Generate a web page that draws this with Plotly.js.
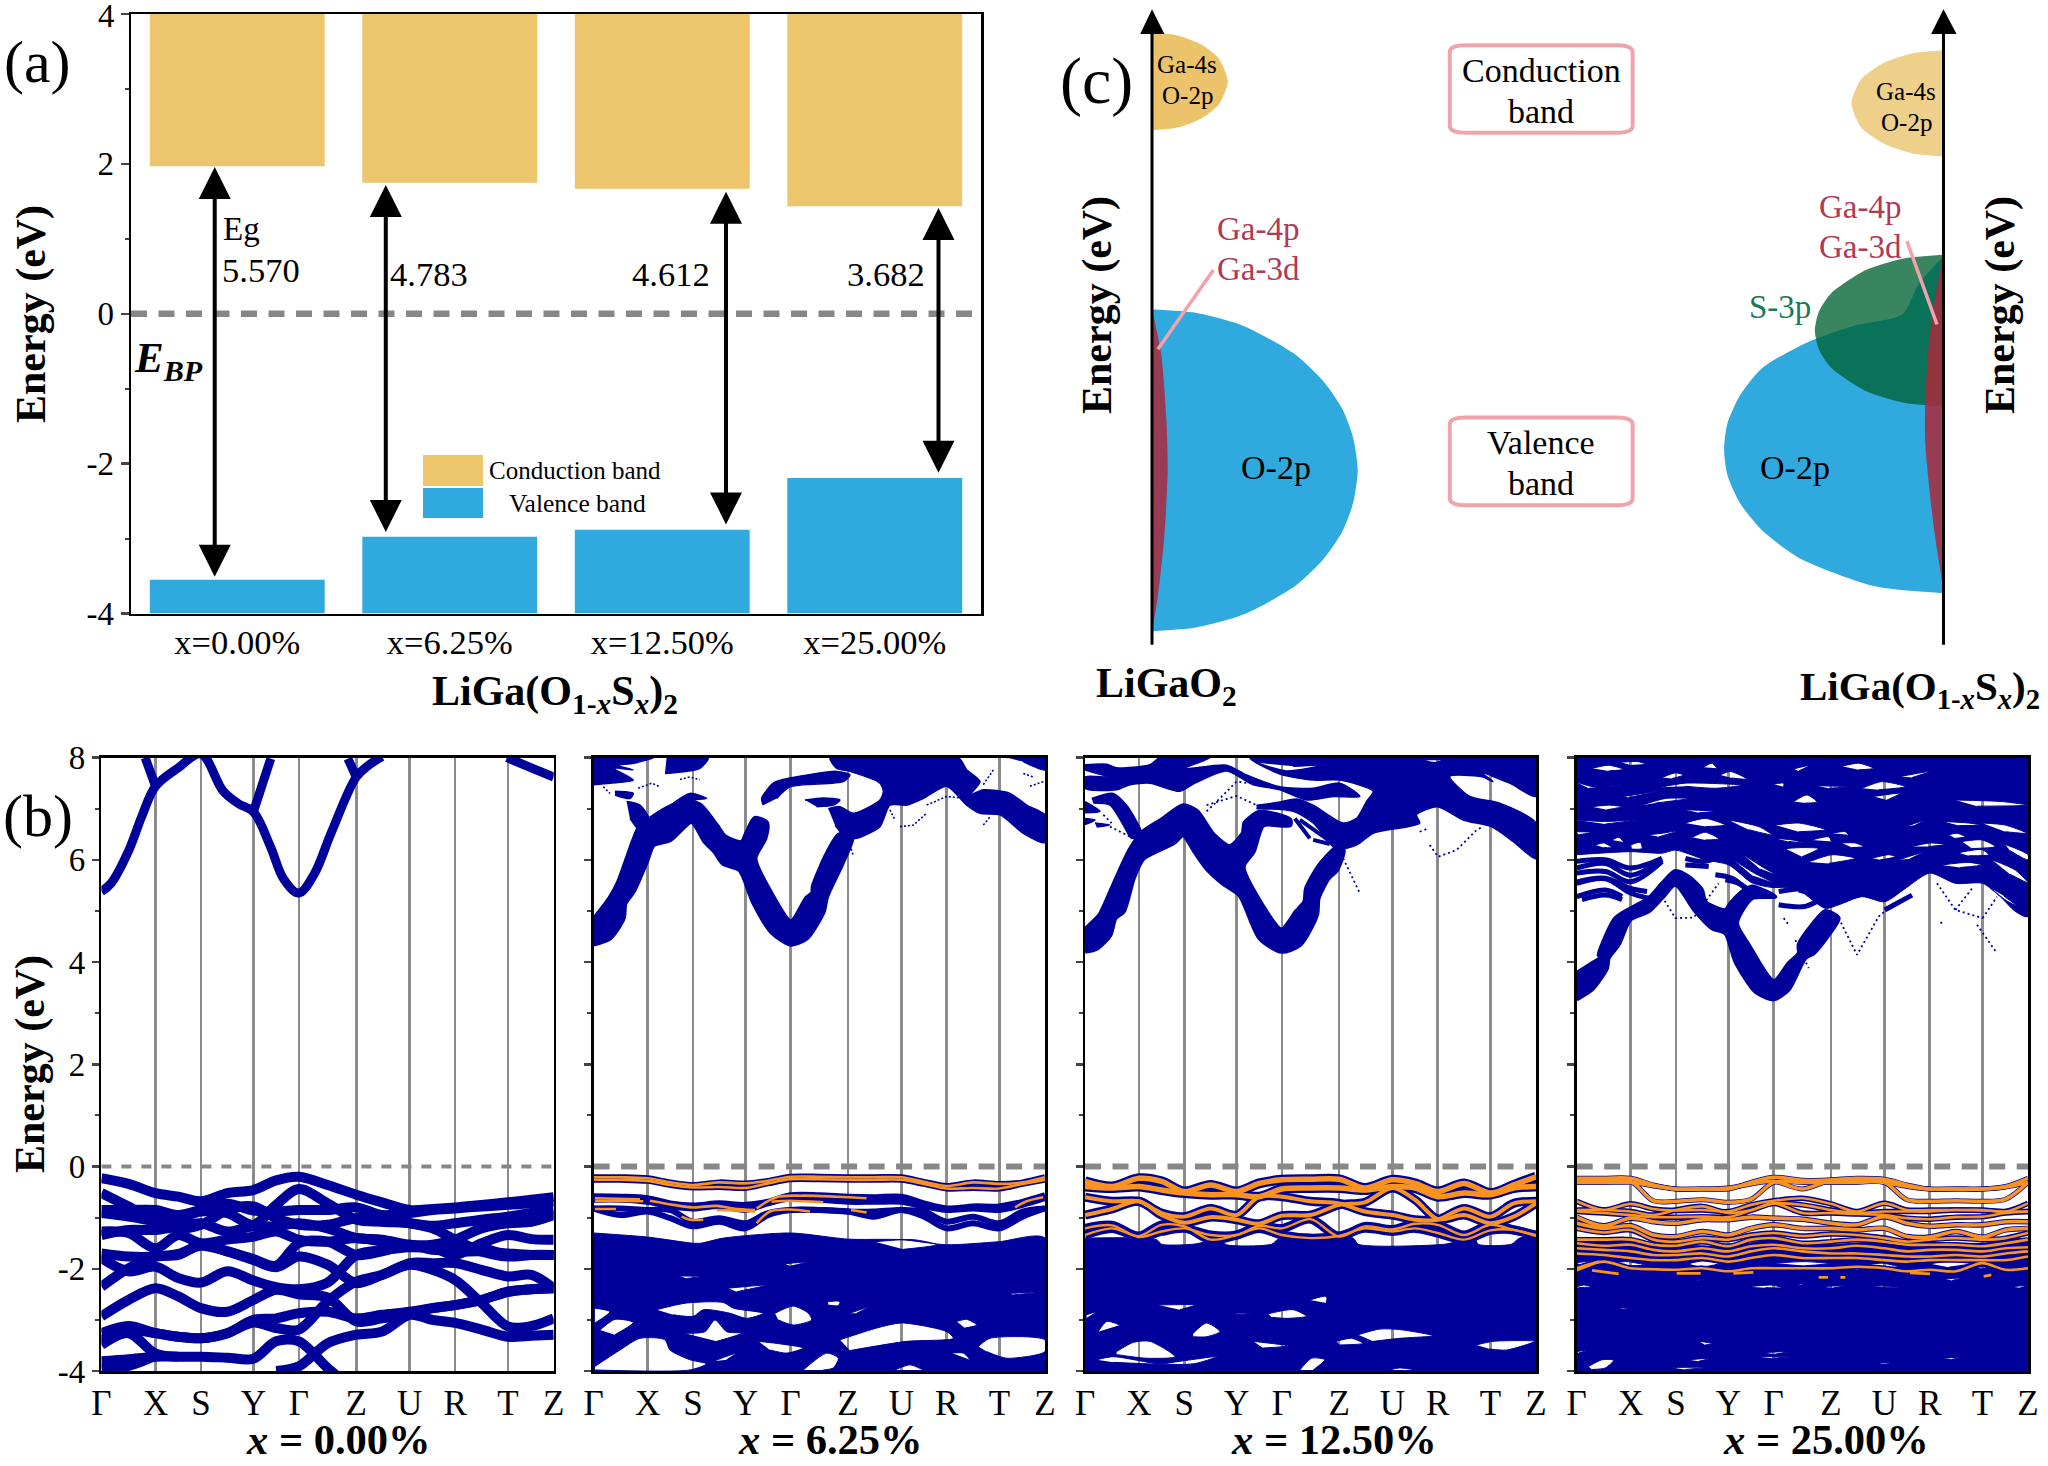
<!DOCTYPE html>
<html><head><meta charset="utf-8">
<script src="https://cdn.plot.ly/plotly-3.0.1.min.js"></script>
<style>html,body{margin:0;padding:0;background:#fff}path.js-fill{fill-rule:evenodd}</style>
</head><body><div id="chart" style="width:2048px;height:1466px"></div>
<script>
// ---------- panel (a) values ----------
const categories = ['x=0.00%','x=6.25%','x=12.50%','x=25.00%'];
const cbEdge = [1.97,1.75,1.67,1.435];
const vbEdge = [-3.55,-2.975,-2.88,-2.19];
const arrowX = [-0.106,0.699,2.30,3.30];
const arrowTop = [1.96,1.72,1.63,1.41];
const arrowBottom = [-3.53,-2.93,-2.83,-2.14];
const gapLabels = ['5.570','4.783','4.612','3.682'];

// ---------- panel (b) k-path ----------
const kTicks = [0,162,298,455,591,763,923,1059,1217,1354];
const kLabels = ['Γ','X','S','Y','Γ','Z','U','R','T','Z'];
const kNodes = [0,81,162,230,298,377,455,523,591,677,763,840,923,991,1059,1138,1217,1287,1354];

// x = 0.00 %  valence bands
const p1Bands = [
[-.23,-.34,-.52,-.59,-.68,-.52,-.46,-.27,-.20,-.36,-.55,-.70,-.85,-.83,-.80,-.75,-.70,-.65,-.60],
[-.85,-.85,-.85,-.95,-.85,-.73,-.86,-.88,-.85,-.85,-.80,-.95,-.91,-.85,-.82,-.78,-.75,-.72,-.68],
[-.52,-.78,-1.04,-1.01,-.88,-.91,-1.14,-.75,-.44,-.72,-1.04,-1.08,-1.11,-1.16,-1.11,-1.04,-.98,-.91,-.85],
[-.91,-.98,-1.08,-1.21,-1.14,-.85,-.78,-1.01,-1.14,-1.14,-1.01,-1.04,-1.11,-1.21,-1.43,-1.66,-1.76,-1.73,-1.73],
[-1.34,-1.24,-1.24,-1.17,-1.11,-1.27,-1.17,-1.17,-1.11,-1.21,-1.40,-1.43,-1.53,-1.53,-1.43,-1.21,-1.11,-1.08,-.95],
[-1.27,-1.30,-1.60,-1.34,-1.50,-1.43,-1.37,-1.27,-1.43,-1.47,-1.40,-1.47,-1.55,-1.58,-1.73,-1.50,-1.34,-1.42,-1.43],
[-1.70,-1.76,-1.76,-1.71,-1.55,-1.66,-1.81,-1.94,-1.50,-1.47,-1.73,-1.66,-1.53,-1.63,-1.63,-1.60,-1.73,-1.73,-1.73],
[-1.79,-2.05,-1.96,-2.18,-2.27,-2.05,-2.23,-2.36,-2.40,-2.27,-1.73,-1.64,-1.58,-1.60,-1.66,-1.66,-1.70,-1.73,-1.73],
[-2.35,-1.99,-1.76,-1.73,-1.53,-1.66,-1.83,-1.97,-1.76,-1.92,-2.28,-2.12,-1.89,-1.89,-1.89,-2.02,-2.15,-2.12,-2.38],
[-2.93,-2.61,-2.38,-2.54,-2.77,-2.84,-2.61,-2.41,-2.50,-2.56,-3.03,-2.97,-2.87,-2.77,-2.71,-2.61,-2.45,-2.40,-2.38],
[-3.26,-3.12,-3.26,-3.33,-3.36,-3.26,-3.05,-3.16,-3.19,-2.64,-2.25,-2.12,-1.92,-2.02,-2.22,-2.67,-3.13,-3.12,-2.97],
[-3.39,-3.20,-3.26,-3.33,-3.36,-3.26,-3.00,-2.97,-2.87,-2.84,-2.97,-2.90,-2.84,-2.77,-2.71,-2.61,-2.45,-2.40,-2.38],
[-3.81,-3.77,-3.72,-3.72,-3.72,-3.74,-3.76,-3.42,-3.42,-3.94,-4.40,null,null,null,null,null,null,null,null],
[-3.49,-3.26,-3.66,-3.72,null,null,null,null,null,null,null,null,null,null,null,null,null,null,null],
[-3.95,-3.90,-3.70,null,null,null,null,null,null,null,null,null,null,null,null,null,null,null,null],
[null,null,null,null,null,null,null,-4.00,-3.91,-3.46,-3.29,-3.23,-2.90,-3.00,-3.06,-3.19,-3.33,-3.31,-3.29]
];
// x = 0.00 %  conduction bands, [k, E]
const p1Cond = [
[[0,5.38],[30,5.55],[81,6.17],[121,6.85],[162,7.44],[230,7.80],[298,8.07],[364,7.35],[410,7.10],[455,6.94],[506,6.26],[546,5.62],[591,5.35],[637,5.72],[688,6.53],[763,7.62],[800,7.85],[840,8.02]],
[[131,8.0],[162,7.44]],
[[455,6.94],[507,7.98]],
[[763,7.62],[738,7.98]],
[[1214,8.0],[1287,7.80],[1354,7.62]]
];

// x = 6.25 %
const p2Main = [[0,4.83],[49,5.25],[74,5.55],[119,6.36],[137,6.63],[164,6.77],[219,7.0],[279,7.16],[319,7.07],[369,6.67],[394,6.45],[444,6.34],[459,6.52],[484,6.81],[519,6.72],[514,6.42],[484,6.03],[529,5.38],[592,4.79],[639,5.25],[657,5.35],[659,5.48],[699,6.10],[737,6.49],[774,6.42],[769,6.29],[739,5.84],[699,5.28],[689,4.99],[639,4.47],[592,4.35],[534,4.59],[479,5.18],[439,5.80],[389,5.93],[364,6.16],[334,6.36],[294,6.75],[229,6.39],[179,6.29],[159,5.97],[119,5.38],[94,5.15],[89,4.86],[49,4.47],[0,4.35]];
const p2Upper = [
[[704,7.0],[739,7.04],[779,6.91],[859,7.17],[869,7.34],[859,7.50],[769,7.73],[729,7.79],[709,8],[1094,8],[1119,7.76],[1159,7.53],[1129,7.27],[1169,7.37],[1249,7.30],[1299,7.07],[1354,6.88],[1354,6.34],[1289,6.52],[1219,6.88],[1159,6.91],[1119,7.07],[1059,7.44],[989,7.2],[939,7.07],[889,7.07],[859,6.65],[789,6.42],[759,6.42],[724,6.68]],
[[509,7.07],[504,7.2],[539,7.50],[589,7.6],[729,7.73],[769,7.66],[749,7.53],[589,7.43],[549,7.2]],
[[99,7.14],[139,7.07],[169,6.75],[139,6.58],[109,6.81]],
[[64,7.34],[119,7.3],[109,7.2],[64,7.27]],
[[239,7.11],[289,7.3],[339,7.2],[279,7.17]],
[[634,7.17],[689,7.21],[739,7.17],[719,7.07],[669,7.04]],
[[214,7.69],[319,7.79],[344,8],[219,8]],
[[0,8],[180,8],[120,7.89],[70,7.85],[119,7.76],[60,7.79],[119,7.56],[50,7.5],[0,7.47]],
[[1239,8],[1354,8],[1354,7.76],[1289,7.92]]
];
const p2Thin = [
[[919,6.65],[959,6.68],[999,6.91]],[[999,7.07],[1059,7.24],[1119,7.2]],[[889,6.98],[904,6.78]],[[1169,6.68],[1189,6.84]],
[[1169,7.47],[1199,7.76]],[[29,7.43],[49,7.30]],[[134,7.40],[174,7.5],[199,7.43]],[[259,7.57],[289,7.62],[319,7.57]],
[[769,6.29],[779,6.08]],[[1289,7.69],[1319,7.62]],[[1309,7.44],[1349,7.53]]
];
const p2Mass = [[0,-4.2],[1354,-4.2],[1354,-1.40],[1217,-1.47],[1059,-1.53],[923,-1.43],[763,-1.42],[591,-1.30],[389,-1.40],[322,-1.50],[298,-1.50],[162,-1.38],[0,-1.30]];
const p2Holes = [
[[189,-2.80],[279,-2.67],[389,-2.66],[419,-2.77],[509,-2.87],[459,-2.97],[409,-2.87],[329,-2.80],[299,-2.93],[239,-2.90]],
[[4,-2.77],[49,-2.84],[4,-3.06]],
[[19,-3.20],[64,-2.99],[119,-3.05],[64,-3.29]],
[[544,-2.87],[599,-2.73],[644,-2.87],[654,-3.0],[599,-3.10],[554,-3.0]],
[[4,-3.91],[79,-3.59],[139,-3.36],[214,-3.39],[229,-3.59],[289,-3.78],[339,-3.86],[289,-3.98],[4,-3.98]],
[[274,-3.26],[334,-3.23],[364,-3.0],[399,-3.23],[444,-3.26],[369,-3.42]],
[[494,-3.42],[549,-3.46],[629,-3.55],[579,-3.65],[529,-3.59]],
[[739,-3.39],[849,-3.16],[924,-3.06],[1059,-3.23],[1079,-3.36],[939,-3.42],[769,-3.6]],
[[1089,-3.03],[1119,-2.99],[1149,-3.1],[1114,-3.16]],
[[1154,-3.52],[1189,-3.36],[1354,-3.39],[1354,-3.62],[1239,-3.75],[1179,-3.62]],
[[629,-3.98],[699,-3.65],[734,-3.75],[719,-3.94],[689,-3.98]],
[[1074,-3.65],[1109,-3.65],[1129,-3.78]],
[[359,-3.81],[429,-3.65],[399,-3.78]],
[[904,-3.98],[949,-3.88],[989,-3.98]],
[[404,-2.38],[519,-2.32],[429,-2.45]],
[[259,-2.14],[324,-2.15],[279,-2.19]],
[[769,-2.87],[829,-2.74],[789,-2.87]],
[[704,-2.64],[739,-2.64],[734,-2.72],[704,-2.71]],
[[844,-1.47],[959,-1.43],[1029,-1.53],[929,-1.62]],
[[1249,-2.48],[1349,-2.45],[1259,-2.51]],
[[575,-1.90],[640,-1.87],[590,-1.95]]
];
const p2Valence = [
[-.21,-.21,-.23,-.31,-.36,-.31,-.33,-.28,-.2,-.2,-.21,-.21,-.21,-.30,-.38,-.31,-.34,-.31,-.21],
[-.26,-.26,-.28,-.36,-.41,-.40,-.42,-.33,-.25,-.25,-.26,-.26,-.26,-.34,-.43,-.42,-.43,-.34,-.26],
[-.58,-.59,-.62,-.72,-.76,-.72,-.75,-.69,-.56,-.56,-.59,-.60,-.59,-.72,-.82,-.78,-.78,-.69,-.56],
[-.65,-.65,-.69,-.78,-.82,-.77,-.85,-.72,-.62,-.65,-.69,-.69,-.69,-.78,-.85,-.82,-.85,-.75,-.62],
[-.82,-.95,-.88,-1.01,-1.17,-1.08,-1.21,-.95,-.85,-.85,-.88,-.98,-.85,-.98,-1.21,-1.11,-1.21,-.98,-.82],
[-.82,-.82,-.85,-.85,-1.08,-1.01,-1.11,-.91,-.85,-.85,-.88,-.88,-.85,-.88,-1.08,-.98,-1.11,-.88,-.82]
];
const p2Orange = [
[[4,-.62],[139,-.64]],[[4,-.67],[149,-.68]],
[[169,-.67],[239,-.75],[299,-.80],[369,-.77],[419,-.82],[484,-.85]],
[[369,-.85],[429,-.86],[484,-.88]],
[[489,-.82],[549,-.60],[629,-.57],[729,-.59],[819,-.62]],
[[534,-.69],[589,-.67],[689,-.70]],
[[489,-1.11],[529,-.88],[589,-.84],[649,-.88]],
[[4,-.83],[67,-.83]],[[264,-.98],[289,-1.04],[329,-1.04]],[[772,-.85],[819,-.90]],
[[1264,-.80],[1299,-.68],[1349,-.60]]
];

// x = 12.50 %
const p3Main = [[0,4.63],[45,4.92],[55,5.05],[95,5.64],[135,6.19],[170,6.52],[230,6.78],[295,7.06],[335,6.95],[385,6.49],[435,6.26],[475,6.52],[480,6.72],[525,6.93],[615,6.78],[615,6.68],[535,6.68],[505,6.16],[475,5.87],[525,5.18],[590,4.63],[635,4.99],[660,5.18],[665,5.44],[705,5.90],[755,6.23],[775,6.19],[755,5.80],[730,5.64],[700,5.25],[695,4.92],[645,4.34],[590,4.21],[525,4.47],[465,5.31],[415,5.54],[365,5.84],[330,6.16],[295,6.49],[265,6.33],[175,6.03],[145,5.64],[115,4.99],[90,4.86],[75,4.53],[35,4.27],[0,4.21]];
const p3Right = [[515,7.07],[585,7.13],[635,7.19],[685,7.07],[775,6.72],[815,6.81],[845,7.14],[865,7.34],[765,7.56],[685,7.56],[585,7.68],[495,8],[1354,8],[1354,7.24],[1275,7.5],[1190,7.71],[1225,7.53],[1190,7.63],[1095,7.63],[1155,7.24],[1245,7.11],[1354,6.72],[1354,6.02],[1285,6.36],[1220,6.65],[1135,6.78],[1058,7.04],[995,6.88],[1005,6.72],[865,6.52],[815,6.29],[755,6.21],[685,6.72],[625,6.95],[515,7.0]];
const p3RightHoles = [
[[515,7.9],[605,7.74],[720,7.86],[625,7.83]],
[[1015,7.95],[1050,7.9],[1075,7.95]]
];
const p3Others = [
[[0,7.86],[65,7.87],[95,7.8],[195,7.86],[225,8],[375,8],[295,7.78],[425,7.85],[485,7.66],[585,7.43],[685,7.4],[765,7.5],[825,7.24],[745,7.24],[665,7.17],[585,7.37],[505,7.47],[425,7.74],[330,7.5],[285,7.34],[195,7.5],[135,7.47],[95,7.37],[0,7.40],[0,7.62],[65,7.62],[0,7.76]],
[[20,7.2],[85,7.3],[125,7.07],[150,6.81],[170,6.52],[140,6.42],[115,6.68],[75,7.07],[25,7.11]],
[[0,7.14],[45,6.95],[0,6.92]],
[[0,6.81],[30,6.78],[0,6.69]],
[[30,6.72],[75,6.68],[35,6.64]]
];
const p3Thin = [
[[75,6.65],[145,6.42]],[[55,6.88],[80,6.72]],
[[365,6.95],[385,7.07],[455,7.53],[495,7.5]],
[[365,7.07],[455,7.25],[515,7.07]],
[[775,6.03],[825,5.35]],[[1005,6.55],[1025,6.6]],
[[1035,6.29],[1060,6.06],[1115,6.19],[1175,6.58],[1195,6.65]]
];
const p3Stripes = [[[630,6.81],[675,6.42]],[[645,6.78],[730,6.39]],[[685,6.39],[735,6.31]]];
const p3Mass = [[0,-4.2],[1354,-4.2],[1354,-1.40],[1305,-1.40],[1280,-1.52],[1180,-1.52],[1170,-1.40],[1080,-1.52],[820,-1.52],[805,-1.40],[585,-1.40],[560,-1.52],[425,-1.53],[405,-1.43],[325,-1.52],[230,-1.52],[215,-1.43],[0,-1.40]];
const p3Holes = [
[[220,-2.71],[330,-2.71],[285,-2.80]],
[[550,-2.88],[625,-2.80],[665,-2.93],[605,-2.97],[560,-2.95]],
[[40,-3.23],[65,-3.03],[105,-3.10]],
[[5,-2.97],[35,-2.84],[5,-2.90]],
[[325,-3.26],[365,-3.06],[405,-3.23],[365,-3.33],[325,-3.33]],
[[95,-3.62],[145,-3.44],[195,-3.42],[270,-3.72],[185,-3.75],[95,-3.68]],
[[35,-3.78],[85,-3.72],[225,-3.86],[285,-3.81],[395,-3.72],[325,-3.86],[85,-3.83]],
[[645,-3.98],[680,-3.75],[720,-3.78],[685,-3.98]],
[[755,-3.42],[800,-3.36],[835,-3.46],[765,-3.49]],
[[820,-3.29],[885,-3.18],[945,-3.19],[1045,-3.31],[945,-3.36],[865,-3.42]],
[[1175,-3.49],[1225,-3.42],[1350,-3.42],[1265,-3.59],[1215,-3.57]],
[[505,-3.42],[610,-3.51],[535,-3.55]],
[[675,-2.61],[725,-2.54],[725,-2.67]],
[[450,-2.87],[505,-2.87],[455,-2.90]],
[[910,-3.98],[945,-3.94],[995,-3.98]]
];
const p3Valence = [
[-.29,-.39,-.23,-.29,-.49,-.36,-.49,-.33,-.26,-.25,-.25,-.42,-.26,-.33,-.49,-.33,-.52,-.36,-.20],
[-.39,-.42,-.39,-.46,-.52,-.55,-.55,-.59,-.44,-.42,-.42,-.46,-.39,-.42,-.59,-.52,-.55,-.42,-.39],
[-.60,-.68,-.68,-.91,-.98,-.82,-.95,-.59,-.59,-.68,-.72,-.88,-.95,-1.04,-1.04,-.82,-.98,-.72,-.68],
[-.95,-.83,-.68,-.95,-1.10,-.99,-1.04,-1.12,-.96,-.95,-.75,-.70,-.42,-.65,-1.03,-.95,-1.11,-.98,-.72],
[-1.34,-1.21,-1.36,-1.14,-1.17,-1.43,-1.34,-1.21,-1.34,-1.40,-1.36,-1.21,-1.27,-1.21,-1.30,-1.43,-1.25,-1.24,-1.36],
[-1.21,-1.15,-1.38,-1.27,-1.21,-1.34,-1.34,-1.16,-1.21,-1.03,-1.37,-1.17,-1.23,-1.12,-1.14,-1.34,-1.14,-1.24,-1.34]
];

// x = 25.00 %
const p4Main = [[0,3.79],[46,3.98],[71,4.08],[66,4.14],[76,4.34],[116,4.86],[161,5.05],[216,5.25],[256,5.54],[296,5.78],[336,5.67],[376,5.41],[386,5.18],[446,5.02],[461,5.15],[496,5.38],[526,5.48],[596,5.28],[526,5.25],[481,4.76],[516,4.34],[591,3.63],[636,3.98],[666,4.17],[666,4.34],[706,4.73],[746,5.0],[786,4.86],[756,4.53],[711,4.17],[686,4.08],[636,3.46],[591,3.27],[536,3.42],[476,4.01],[446,4.56],[406,4.66],[356,4.99],[296,5.51],[256,5.25],[216,4.99],[161,4.83],[126,4.34],[96,4.08],[91,3.88],[46,3.46],[0,3.27]];
const p4Upper = [[0,8.2],[1354,8.2],[1354,4.89],[1316,4.99],[1271,5.28],[1218,5.54],[1136,5.54],[1059,5.74],[986,5.44],[924,5.18],[856,5.28],[786,5.12],[746,5.05],[666,5.41],[626,5.46],[586,5.46],[526,5.55],[456,5.90],[386,6.0],[296,6.19],[256,6.13],[161,6.16],[0,6.10]];
const p4UpperHoles = [
[[46,7.79],[96,7.85],[141,7.77],[96,7.74]],[[131,7.91],[186,7.92],[206,7.87],[166,7.85]],[[381,7.81],[406,7.89],[421,7.79]],
[[256,7.61],[296,7.70],[321,7.66],[286,7.59]],[[431,7.66],[461,7.73],[511,7.58],[466,7.60]],[[651,7.78],[701,7.85],[666,7.74]],
[[796,7.83],[846,7.89],[891,7.79],[846,7.76]],[[971,7.63],[1061,7.73],[1006,7.61]],[[0,7.52],[60,7.42],[156,7.5],[106,7.44],[36,7.4]],
[[251,7.42],[326,7.50],[496,7.46],[416,7.40],[326,7.44]],[[591,7.48],[621,7.50],[621,7.43]],[[721,7.45],[816,7.43],[756,7.40]],
[[856,7.40],[916,7.53],[986,7.43],[906,7.37]],[[651,7.14],[691,7.27],[721,7.13],[686,7.11]],[[891,7.24],[971,7.30],[931,7.17]],
[[46,7.04],[96,7.07],[136,7.04],[91,6.98]],[[196,7.07],[266,7.2],[336,7.2],[236,7.11]],[[141,7.24],[246,7.34],[156,7.22]],
[[326,6.98],[416,6.95],[366,6.92]],[[1136,7.17],[1276,7.14],[1351,7.07],[1201,7.05]],[[0,6.78],[86,6.75],[176,6.78],[86,6.70]],
[[0,6.55],[46,6.54],[6,6.49]],[[56,6.29],[81,6.33],[106,6.24],[81,6.24]],[[106,6.39],[126,6.44],[141,6.35]],
[[161,6.29],[191,6.34],[196,6.22],[166,6.21]],[[326,6.72],[386,6.81],[446,6.68],[386,6.65]],[[346,6.44],[386,6.54],[426,6.41],[386,6.39]],
[[456,6.78],[546,6.65],[586,6.49],[516,6.59]],[[596,6.68],[666,6.72],[746,6.59],[666,6.55]],[[596,6.42],[646,6.39],[686,6.33],[636,6.36]],
[[706,6.39],[756,6.45],[766,6.36]],[[766,6.52],[806,6.55],[816,6.49]],[[796,6.33],[836,6.33],[861,6.26],[826,6.24]],
[[626,6.22],[676,6.24],[726,6.22],[676,6.06]],[[696,5.96],[766,6.10],[836,6.03],[756,5.93]],[[886,6.03],[936,6.10],[956,6.06],[911,6.0]],
[[1006,6.26],[1061,6.33],[1106,6.30],[1056,6.26]],[[1116,6.49],[1141,6.52],[1166,6.45],[1136,6.42]],[[1156,6.36],[1216,6.39],[1256,6.26],[1186,6.22]],
[[1216,6.72],[1286,6.68],[1351,6.52],[1286,6.55]],[[1101,6.75],[1176,6.72],[1211,6.68],[1146,6.67]],[[986,6.65],[1046,6.78],[1016,6.68]],
[[216,6.49],[256,6.52],[306,6.57],[246,6.45]],
[[470,6.0],[530,5.75],[590,5.55],[530,5.68]],[[500,6.1],[560,5.85],[600,5.7],[550,5.82]],
[[1146,6.14],[1216,6.2],[1236,6.1],[1176,6.08]],[[1246,6.0],[1316,5.8],[1354,5.55],[1300,5.72]],[[1286,6.3],[1354,6.1],[1354,6.0],[1300,6.18]],
[[1096,5.9],[1176,5.95],[1216,5.9],[1150,5.85]],[[966,6.0],[1040,6.15],[1000,6.02]],[[1240,5.45],[1290,5.2],[1320,5.1],[1280,5.3]]
];
const p4Strips = [
[[0,5.97],[86,6.0],[161,5.84],[256,6.03]],[[0,5.84],[86,5.93],[161,5.70],[256,6.0]],[[0,5.74],[86,5.77],[161,5.57],[256,5.97]],
[[0,5.57],[86,5.64],[161,5.44],[211,5.38]],[[0,5.54],[86,5.63],[161,5.35],[216,5.25]],[[0,5.28],[86,5.41],[136,5.28]],[[16,5.22],[86,5.31],[136,5.22]],
[[326,6.03],[386,5.97],[456,6.16]],[[326,5.90],[396,5.87]],[[416,5.71],[466,5.64],[506,5.44]],[[446,5.61],[486,5.54],[516,5.41]],
[[606,5.38],[686,5.44],[746,5.38]],[[606,5.12],[686,5.09],[736,5.25]],
[[666,5.41],[726,5.31],[786,5.18]],[[924,5.02],[1006,5.31]]
];
const p4Thin = [
[[256,5.28],[296,4.86],[351,4.87],[426,5.54]],[[786,4.86],[841,4.14],[906,4.89],[926,5.0]],[[1091,4.76],[1101,4.79]],[[621,4.86],[636,4.73]],
[[1081,5.54],[1136,5.02],[1218,4.86]],[[1136,5.02],[1186,5.44]],[[1218,4.86],[1261,5.28]],[[1201,4.73],[1261,4.17]],[[656,4.43],[696,3.88]]
];
const p4Mass = [[0,-4.2],[1354,-4.2],[1354,-1.45],[1217,-1.50],[1059,-1.50],[923,-1.47],[763,-1.52],[591,-1.43],[455,-1.56],[298,-1.53],[162,-1.47],[0,-1.40]];
const p4Holes = [
[[102,-1.89],[151,-1.86],[206,-1.93],[151,-1.94]],[[336,-1.90],[376,-1.85],[426,-1.90],[376,-1.97]],[[596,-1.89],[686,-1.86],[756,-1.90],[686,-1.94]],
[[876,-1.92],[916,-1.89],[966,-1.96],[916,-1.97]],[[1061,-1.90],[1116,-1.86],[1181,-1.90],[1116,-1.97]],[[0,-1.88],[36,-1.86],[61,-1.90],[16,-1.94]],
[[826,-1.99],[844,-1.94],[864,-1.99],[844,-2.02]],[[1201,-1.97],[1236,-1.96],[1216,-2.0]],[[0,-2.35],[21,-2.32],[46,-2.35],[6,-2.37]],
[[516,-2.35],[586,-2.32],[616,-2.37],[566,-2.37]],[[651,-2.29],[716,-2.29],[676,-2.31]],[[736,-2.35],[806,-2.33],[771,-2.37]],
[[886,-2.35],[971,-2.36],[916,-2.33]],[[1106,-2.20],[1156,-2.18],[1126,-2.23]],[[1306,-2.35],[1351,-2.33],[1331,-2.37]],
[[371,-2.22],[391,-2.18],[356,-2.23]],[[0,-3.62],[31,-3.59],[6,-3.65]],[[36,-3.91],[76,-3.78],[111,-3.79],[86,-3.94],[46,-3.97]],
[[336,-3.78],[401,-3.75],[366,-3.81]],[[366,-3.42],[406,-3.46],[386,-3.49]],[[561,-3.64],[636,-3.62],[596,-3.67]],[[546,-3.72],[641,-3.72],[586,-3.75]],
[[906,-3.85],[946,-3.83],[926,-3.87]],[[1101,-3.75],[1156,-3.73],[1126,-3.77]],[[281,-3.93],[386,-3.93],[326,-3.97]],[[126,-2.77],[161,-2.77],[141,-2.79]]
];
const p4Valence = [
[-.23,-.23,-.23,-.36,-.44,-.44,-.44,-.31,-.21,-.27,-.26,-.23,-.25,-.36,-.44,-.44,-.44,-.39,-.23],
[-.31,-.31,-.31,-.38,-.44,-.44,-.42,-.34,-.29,-.44,-.27,-.27,-.31,-.39,-.44,-.44,-.44,-.40,-.31],
[-.27,-.27,-.29,-.67,-.68,-.65,-.70,-.64,-.31,-.31,-.31,-.31,-.31,-.65,-.68,-.67,-.68,-.64,-.31],
[-.68,-.85,-.73,-.83,-.86,-.85,-.88,-.75,-.67,-.62,-.73,-.88,-.72,-.85,-.85,-.85,-.85,-.88,-.72],
[-.85,-.85,-.88,-.95,-.85,-.78,-.91,-.85,-.72,-.75,-.85,-.91,-.88,-.88,-.88,-.85,-.86,-.88,-.88],
[-.88,-.91,-.95,-.99,-.99,-.98,-.99,-.86,-.72,-.91,-.91,-.93,-.95,-1.01,-1.03,-.99,-.98,-.91,-.88],
[-.99,-1.16,-1.01,-1.08,-1.11,-1.04,-1.04,-.99,-1.01,-1.03,-1.11,-1.14,-.98,-1.11,-1.17,-1.14,-1.14,-1.08,-1.08],
[-1.11,-1.21,-1.16,-1.34,-1.37,-1.27,-1.34,-1.21,-1.14,-1.21,-1.21,-1.24,-1.21,-1.37,-1.38,-1.27,-1.38,-1.24,-1.21],
[-1.21,-1.29,-1.24,-1.43,-1.47,-1.40,-1.43,-1.34,-1.30,-1.36,-1.32,-1.34,-1.40,-1.47,-1.43,-1.40,-1.43,-1.40,-1.30],
[-1.43,-1.43,-1.43,-1.53,-1.55,-1.47,-1.56,-1.43,-1.40,-1.50,-1.47,-1.43,-1.47,-1.53,-1.53,-1.53,-1.56,-1.50,-1.43],
[-1.50,-1.55,-1.53,-1.63,-1.66,-1.60,-1.66,-1.56,-1.53,-1.60,-1.60,-1.55,-1.60,-1.66,-1.63,-1.63,-1.66,-1.60,-1.58],
[-1.60,-1.63,-1.66,-1.73,-1.73,-1.70,-1.76,-1.66,-1.60,-1.66,-1.70,-1.70,-1.73,-1.76,-1.76,-1.73,-1.76,-1.70,-1.66],
[-1.70,-1.73,-1.79,-1.83,-1.83,-1.79,-1.86,-1.79,-1.73,-1.79,-1.79,-1.79,-1.83,-1.86,-1.83,-1.83,-1.83,-1.83,-1.76],
[-1.99,-1.86,-1.99,-2.01,-2.02,-1.99,-2.05,-1.99,-1.99,-1.99,-1.99,-1.96,-1.99,-2.05,-2.02,-2.05,-1.89,-2.02,-1.99]
];
const p4Orange = [
[[726,-2.17],[754,-2.17]],[[791,-2.17],[806,-2.17]],[[1221,-2.15],[1244,-2.12]],[[0,-2.03],[66,-1.86]],[[46,-2.03],[126,-2.10]],
[[300,-2.09],[372,-2.09]],[[470,-2.09],[530,-2.07]],[[1000,-2.08],[1060,-2.10]]
];

// ---------- panel (c) schematic outlines (arbitrary DOS / energy units) ----------
const cGoldL = [[196,70],[235,76],[271,95],[298,125],[312,175],[298,225],[271,255],[235,274],[196,280]];
const cGoldR = [[1408,108],[1359,115],[1317,135],[1282,170],[1267,222],[1282,274],[1317,309],[1359,329],[1408,336]];
const cBlueL = [[196,665],[263,672],[336,700],[414,760],[459,820],[488,880],[504,940],[511,1010],[504,1080],[488,1140],[459,1200],[414,1260],[336,1320],[263,1348],[196,1356]];
const cBlueR = [[1408,1274],[1305,1260],[1189,1200],[1131,1140],[1096,1080],[1077,1020],[1072,965],[1077,910],[1096,850],[1131,790],[1200,735],[1270,700],[1345,675],[1370,610],[1408,550]];
const cGreenR = [[1408,547],[1347,555],[1289,580],[1236,630],[1217,670],[1211,710],[1217,750],[1236,790],[1289,840],[1347,865],[1408,873]];
const cRedL = [[196,665],[210,760],[218,900],[220,1010],[215,1150],[205,1280],[196,1356]];
const cRedR = [[1408,547],[1395,640],[1385,750],[1380,870],[1380,950],[1392,1120],[1408,1270]];

// ---------- helpers ----------
const W=2048,H=1466;
const font='Liberation Serif, Times New Roman, serif';
const blue='#00009a', orange='#f7931e', grey='#878787', red='#b03a54';
const px=x=>x/W, py=y=>1-y/H;
const traces=[];
const flat=(polys)=>{const x=[],y=[];polys.forEach((p,i)=>{if(i){x.push(null);y.push(null);}p.forEach(q=>{x.push(q[0]);y.push(q[1]);});});return {x,y};};
function fill(polys,ax,color,shape,edge){const d=flat(polys);traces.push({type:'scatter',mode:'lines',x:d.x,y:d.y,fill:'toself',fillcolor:color,line:{width:edge||0,color:color,shape:shape||'linear',smoothing:0.7},xaxis:'x'+ax,yaxis:'y'+ax,hoverinfo:'skip',showlegend:false});}
function lines(polys,ax,color,width,shape,dash){const d=flat(polys);traces.push({type:'scatter',mode:'lines',x:d.x,y:d.y,line:{width:width,color:color,shape:shape||'linear',dash:dash||'solid'},xaxis:'x'+ax,yaxis:'y'+ax,hoverinfo:'skip',showlegend:false});}
function band(e,ax,color,width){traces.push({type:'scatter',mode:'lines',x:kNodes,y:e,line:{width:width,color:color,shape:'spline',smoothing:0.9},xaxis:'x'+ax,yaxis:'y'+ax,hoverinfo:'skip',showlegend:false,connectgaps:false});}
function zero(ax,w,d){lines([[[0,0],[1354,0]]],ax,grey,w,'linear',d);}

// panel a
traces.push({type:'bar',x:[0,1,2,3],base:cbEdge,y:cbEdge.map(v=>4-v),width:0.823,marker:{color:'#ecc56c',line:{width:0}},name:'Conduction band',xaxis:'x',yaxis:'y',showlegend:false});
traces.push({type:'bar',x:[0,1,2,3],base:vbEdge.map(()=>-4),y:vbEdge.map(v=>v+4),width:0.823,marker:{color:'#30a9de',line:{width:0}},name:'Valence band',xaxis:'x',yaxis:'y',showlegend:false});
traces.push({type:'scatter',mode:'lines',x:[-0.5,3.5],y:[0,0],line:{color:grey,width:6.5,dash:'16px,11.5px'},xaxis:'x',yaxis:'y',hoverinfo:'skip',showlegend:false});

// panel b1
p1Cond.forEach(c=>lines([c],2,blue,9,'spline'));
p1Bands.forEach(b=>band(b,2,blue,10));
zero(2,4,'10px,10px');
// panel b2
p2Upper.forEach(p=>fill([p],3,blue,'spline',1.5));
fill([p2Main],3,blue,'spline',5);
fill([p2Mass].concat(p2Holes),3,blue,'spline',1);
lines(p2Thin,3,blue,1.6,'linear','2px,2px');
p2Valence.forEach(b=>band(b,3,blue,6));
band(p2Valence[0],3,orange,2.6);band(p2Valence[1],3,orange,2.6);
lines(p2Orange,3,orange,2.6,'spline');
zero(3,6,'16px,11.5px');
// panel b3
p3Others.forEach(p=>fill([p],4,blue,'spline',1.5));
fill([p3Right].concat(p3RightHoles),4,blue,'spline',1.5);
fill([p3Main],4,blue,'spline',5);
fill([p3Mass].concat(p3Holes),4,blue,'spline',1);
lines(p3Thin,4,blue,1.8,'linear','2px,3px');
lines(p3Stripes,4,blue,4);
p3Valence.forEach((b,i)=>band(b,4,blue,i<2?10:9));
p3Valence.forEach((b,i)=>band(b,4,orange,i<2?5.5:(i<4?4:2.4)));
zero(4,6,'16px,11.5px');
// panel b4
fill([p4Upper].concat(p4UpperHoles),5,blue,'spline',1);
fill([p4Main],5,blue,'spline',4);
lines(p4Strips,5,blue,5,'spline');
lines(p4Thin,5,blue,1.8,'linear','2px,3px');
fill([p4Mass].concat(p4Holes),5,blue,'spline',1);
p4Valence.forEach((b,i)=>band(b,5,blue,i<3?5:5.5));
p4Valence.forEach((b,i)=>band(b,5,orange,i<3||i==6||i==7?3.6:2.6));
lines(p4Orange,5,orange,2.8);
zero(5,6,'16px,11.5px');
// panel c
fill([cBlueL],6,'#30a9de','spline');
fill([cBlueR],6,'#30a9de','spline');
fill([cGreenR],6,'rgba(0,99,50,0.78)','spline');
fill([cRedL],6,'rgba(170,40,60,0.85)','spline');
fill([cRedR],6,'rgba(170,40,60,0.85)','spline');
fill([cGoldL],6,'#ecc36a','spline');
fill([cGoldR],6,'#eed08a','spline');
lines([[[290,580],[205,750]],[[1352,518],[1398,697]]],6,'#f0a3ab',3.5);
lines([[[196,1385],[196,60]],[[1408,1385],[1408,60]]],6,'#000',3);
fill([[[178,73],[196,20],[215,73]],[[1389,73],[1408,20],[1428,73]]],6,'#000');

// axes
const axLine={showline:true,mirror:true,linecolor:'#000',linewidth:2.5,zeroline:false};
const layout={width:W,height:H,margin:{l:0,r:0,t:0,b:0},paper_bgcolor:'#fff',plot_bgcolor:'#fff',showlegend:false,barmode:'overlay',font:{family:font,color:'#000',size:33},annotations:[],shapes:[]};
layout.xaxis=Object.assign({},axLine,{domain:[px(131),px(981)],range:[-0.5,3.5],tickvals:[0,1,2,3],ticktext:categories,ticks:'',ticklabelstandoff:-4,showgrid:false,tickfont:{size:34.5,family:font}});
layout.yaxis=Object.assign({},axLine,{domain:[py(613.6),py(14)],range:[-4,4],tickvals:[-4,-2,0,2,4],ticktext:['-4','-2','0','2','4'],ticks:'outside',ticklen:8,tickwidth:2.5,showgrid:false,minor:{dtick:1,ticks:'outside',ticklen:4,tickwidth:2,showgrid:false},tickfont:{size:33,family:font}});
const bPanels=[[101.4,553.7],[593.6,1045],[1085,1536],[1576.7,2028]];
bPanels.forEach((p,i)=>{const n=i+2;
 layout['xaxis'+n]=Object.assign({},axLine,{domain:[px(p[0]),px(p[1])],range:[0,1354],tickvals:kTicks,ticktext:kLabels,ticks:'',ticklabelstandoff:-1,showgrid:true,gridcolor:'#8c8c8c',gridwidth:2.5,anchor:'y'+n,tickfont:{size:35,family:font},tickangle:0});
 layout['yaxis'+n]=Object.assign({},axLine,{domain:[py(1371),py(757.6)],range:[-4,8],tickvals:[-4,-2,0,2,4,6,8],ticktext:['-4','-2','0','2','4','6','8'],showticklabels:i==0,ticks:'outside',ticklen:7,tickwidth:2.5,showgrid:false,anchor:'x'+n,minor:{dtick:1,ticks:'outside',ticklen:4,tickwidth:2,showgrid:false},tickfont:{size:33,family:font}});
});
layout.xaxis6={domain:[px(1024),1],range:[0,1568],visible:false,fixedrange:true,anchor:'y6'};
layout.yaxis6={domain:[py(730),1],range:[1568,0],visible:false,fixedrange:true,anchor:'x6'};

function note(t,x,y,size,opts){layout.annotations.push({text:t,xref:'paper',yref:'paper',x:px(x),y:py(y),xanchor:'center',yanchor:'middle',showarrow:false,font:{family:font,size:size,color:(opts&&opts.color)||'#000'},textangle:(opts&&opts.angle)||0});}
function roundBox(l,t,r,b,rx,ry){return {type:'path',xref:'x6',yref:'y6',path:`M${l+rx},${t}L${r-rx},${t}Q${r},${t} ${r},${t+ry}L${r},${b-ry}Q${r},${b} ${r-rx},${b}L${l+rx},${b}Q${l},${b} ${l},${b-ry}L${l},${t+ry}Q${l},${t} ${l+rx},${t}Z`,line:{color:'#f0a3ab',width:4},fillcolor:'rgba(0,0,0,0)'};}

// arrows of panel a
arrowX.forEach((x,i)=>layout.annotations.push({xref:'x',yref:'y',axref:'x',ayref:'y',x:x,y:arrowTop[i],ax:x,ay:arrowBottom[i],text:'',showarrow:true,arrowside:'end+start',arrowhead:2,arrowsize:1.6,arrowwidth:4,arrowcolor:'#000',standoff:0,startstandoff:0,startarrowhead:2,startarrowsize:1.6}));

// panel a text
note('4',106,16,33);
note('(a)',37,62,60);
note('<b>Energy (eV)</b>',31,314,42,{angle:-90});
note('Eg',241,229,33);
[[261,270],[429,274],[671,274],[886,274]].forEach((p,i)=>note(gapLabels[i],p[0],p[1],34.5));
note('<b><i>E<sub>BP</sub></i></b>',168,361,43);
note('Conduction band',575,471,25);
note('Valence band',577,503,25.5);
note('<b>LiGa(O<sub>1-<i>x</i></sub>S<sub><i>x</i></sub>)<sub>2</sub></b>',555,694,42);
layout.shapes.push({type:'rect',xref:'paper',yref:'paper',x0:px(423),x1:px(483),y0:py(486),y1:py(455),fillcolor:'#ecc56c',line:{width:0}});
layout.shapes.push({type:'rect',xref:'paper',yref:'paper',x0:px(423),x1:px(483),y0:py(518),y1:py(488),fillcolor:'#30a9de',line:{width:0}});

// panel b text
note('(b)',38,816,60);
note('<b>Energy (eV)</b>',30,1064,42,{angle:-90});
[['0.00%',338],['6.25%',830],['12.50%',1334],['25.00%',1826]].forEach(a=>note('<b><i>x</i> = '+a[0]+'</b>',a[1],1439,42.5));

// panel c text
note('(c)',1096,81,66);
note('Ga-4s',1187,65,25);note('O-2p',1187,96,25);
note('Ga-4p',1258,229,33,{color:red});note('Ga-3d',1258,269,33,{color:red});
note('O-2p',1275.5,467,34);
note('Conduction',1541,71,34);note('band',1541,111,34);
note('Valence',1541,442,34);note('band',1541,483,34);
note('Ga-4s',1906,91,25);note('O-2p',1906,122,25);
note('Ga-4p',1860,207,33,{color:red});note('Ga-3d',1860,247,33,{color:red});
note('S-3p',1780,307,33,{color:'#1a7a55'});
note('O-2p',1795,467,34);
note('<b>Energy (eV)</b>',1097,305,42,{angle:-90});
note('<b>Energy (eV)</b>',2000,305,42,{angle:-90});
note('<b>LiGaO<sub>2</sub></b>',1166,686,42);
note('<b>LiGa(O<sub>1-<i>x</i></sub>S<sub><i>x</i></sub>)<sub>2</sub></b>',1920,689,41);
layout.shapes.push(roundBox(652,97,932,285,25,15));
layout.shapes.push(roundBox(652,897,932,1085,25,15));

Plotly.newPlot('chart',traces,layout,{displayModeBar:false,staticPlot:true});
</script></body></html>
